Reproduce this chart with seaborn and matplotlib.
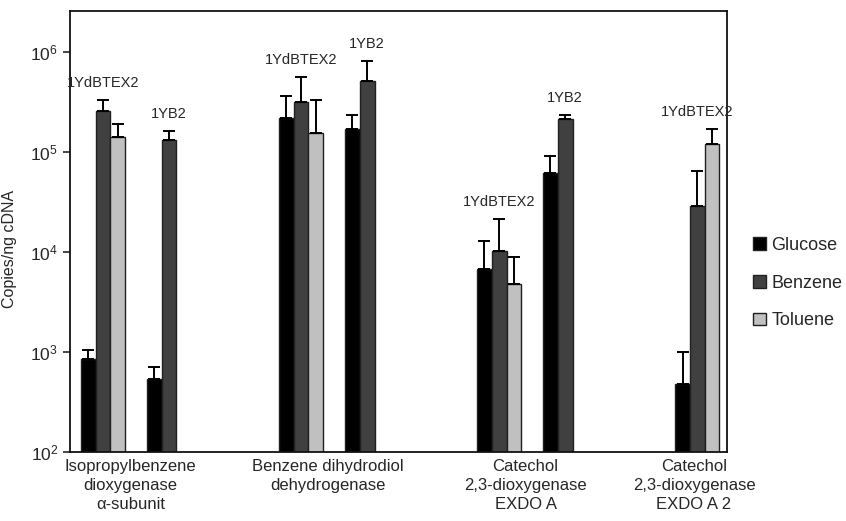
import pandas as pd
import matplotlib
matplotlib.use('Agg')
import matplotlib.pyplot as plt
import seaborn as sns

# data (copies per ng cDNA)
sources = ['Glucose', 'Benzene', 'Toluene']
slots = [0, 1, 3, 4, 6, 7, 9]
strains = ['1YdBTEX2', '1YB2', '1YdBTEX2', '1YB2', '1YdBTEX2', '1YB2', '1YdBTEX2']
glucose = [850, 533, 2.17e5, 1.70e5, 6.7e3, 6.1e4, 475]
benzene = [2.57e5, 1.31e5, 3.19e5, 5.13e5, 1.03e4, 2.12e5, 2.88e4]
toluene = [1.42e5, None, 1.54e5, None, 4.75e3, None, 1.21e5]
glucose_err = [1050, 703, 3.66e5, 2.34e5, 1.29e4, 9.1e4, 1007]
benzene_err = [3.3e5, 1.63e5, 5.67e5, 8.18e5, 2.14e4, 2.34e5, 6.5e4]
toluene_err = [1.89e5, None, 3.31e5, None, 8.85e3, None, 1.70e5]
genes = ['Isopropylbenzene\ndioxygenase\n\u03b1-subunit',
         'Benzene dihydrodiol\ndehydrogenase',
         'Catechol\n2,3-dioxygenase\nEXDO A',
         'Catechol\n2,3-dioxygenase\nEXDO A 2']
gene_pos = [0.42, 3.4, 6.4, 8.95]

rows = []
for s, vals, errs in zip(sources, [glucose, benzene, toluene],
                         [glucose_err, benzene_err, toluene_err]):
    for slot, v, e in zip(slots, vals, errs):
        if v is not None:
            rows.append({'slot': slot, 'source': s, 'value': v, 'upper': e})
df = pd.DataFrame(rows)

sns.set_style('ticks')
plt.rcParams['font.family'] = ['Liberation Sans', 'DejaVu Sans']
plt.rcParams['mathtext.fontset'] = 'custom'
plt.rcParams['mathtext.rm'] = 'Liberation Sans'
plt.rcParams['mathtext.it'] = 'Liberation Sans'

fig = plt.figure(figsize=(8.46, 5.21), dpi=100)
ax = fig.add_axes([70 / 846, 1 - 452 / 521, 657 / 846, 441 / 521])

palette = {'Glucose': '#000000', 'Benzene': '#404040', 'Toluene': '#c0c0c0'}
sns.barplot(data=df, x='slot', y='value', hue='source', hue_order=sources,
            palette=palette, native_scale=True, width=0.67, saturation=1,
            edgecolor='#202020', linewidth=1, errorbar=None, ax=ax)
ax.set_yscale('log')

# upper error bars, matched to the bars seaborn drew
for p in ax.patches:
    h = p.get_height()
    hit = df[df['value'] == h]
    if len(hit) == 0:
        continue
    up = hit['upper'].iloc[0]
    xc = p.get_x() + p.get_width() / 2
    ax.errorbar(xc, h, yerr=[[0], [up - h]], fmt='none', ecolor='black',
                elinewidth=1.4, capsize=4, capthick=1.4)

# strain labels above each cluster
for i, slot in enumerate(slots):
    tops = [e for e in [glucose_err[i], benzene_err[i], toluene_err[i]] if e]
    ax.annotate(strains[i], (slot, max(tops)), xytext=(0, 7),
                textcoords='offset points', ha='center', va='bottom', fontsize=10.5)

ax.set_ylim(100, 10 ** 6.41)
ax.set_xlim(-0.5, 9.45)
ax.set_xticks(gene_pos)
ax.set_xticklabels(genes, fontsize=12, linespacing=1.35)
ax.tick_params(axis='x', length=0, pad=5)
ax.tick_params(axis='y', which='major', length=5, width=1.2, labelsize=12.5, direction='out')
ax.tick_params(axis='y', which='minor', length=0)
ax.set_xlabel('')
ax.set_ylabel('Copies/ng cDNA', fontsize=11.5)
ax.yaxis.set_label_coords(-0.08, 0.46)
for sp in ax.spines.values():
    sp.set_visible(True)
    sp.set_linewidth(1.3)
    sp.set_color('#111111')

handles, labels = ax.get_legend_handles_labels()
ax.legend(handles, labels, loc='center left', bbox_to_anchor=(1.015, 0.383),
          frameon=False, fontsize=13, handlelength=0.7, handleheight=0.7,
          labelspacing=1.15, handletextpad=0.3)

plt.savefig('out.png', dpi=100)
